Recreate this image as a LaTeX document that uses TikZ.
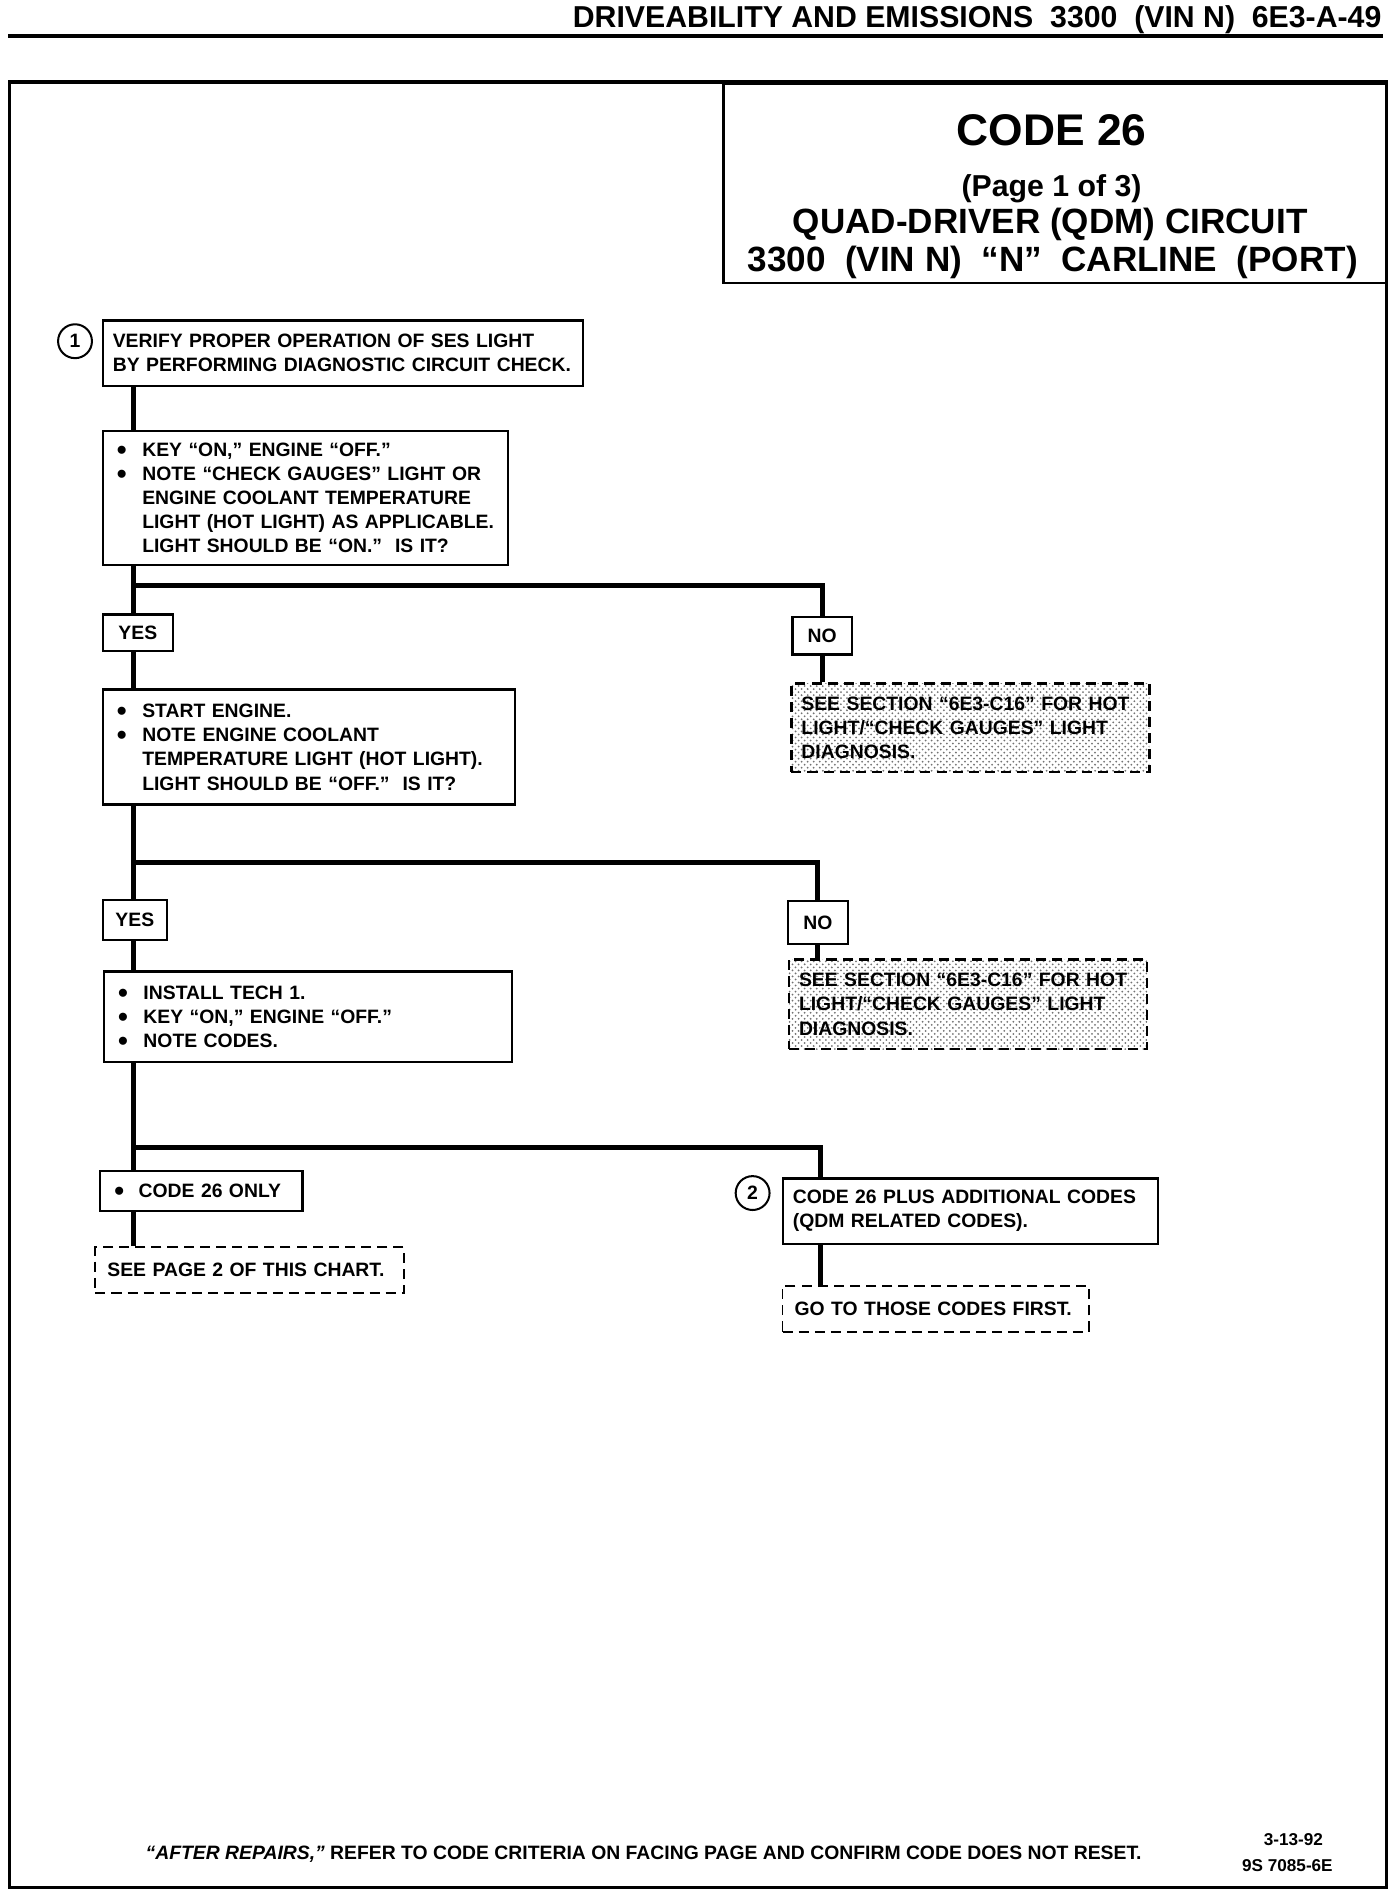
\documentclass[tikz,border=0pt]{standalone}
\usepackage{fontspec}
\setmainfont{Liberation Sans}
\usetikzlibrary{patterns}
\newcommand\bxf{\bfseries\fontsize{9.6}{12}\selectfont}
\newcommand\bigbul{\smash{\raisebox{-1.5pt}{\scalebox{1.45}{\textbullet}}}}
\newcommand\bul{\makebox[12.6pt][l]{\bigbul}}
\newcommand\ind{\hspace*{12.6pt}}
\begin{document}
\begin{tikzpicture}[x=0.6pt,y=-0.6pt,
  box/.style={draw, line width=1.1pt, anchor=north west, align=left, inner xsep=5pt, inner ysep=0pt, font=\bxf},
  bbox/.style={box, inner xsep=7pt},
  yn/.style={draw, line width=1.1pt, anchor=north west, inner sep=0pt, font=\bxf},
  hatchbox/.style={box, dash pattern=on 5pt off 3pt, line width=1.2pt, pattern=crosshatch dots, pattern color=black!55},
  dbox/.style={box, dash pattern=on 5pt off 3pt, line width=0.9pt, inner xsep=6pt},
  trunk/.style={line width=2.4pt},
  numc/.style={circle, draw, line width=1pt, minimum size=16.8pt, inner sep=0pt, font=\bxf},
  frame/.style={line width=1.8pt}]
\useasboundingbox (0,0) rectangle (1150,1562);
% header
\node[anchor=base east, inner sep=0pt, font=\bfseries\fontsize{15}{18}\selectfont] (hdr) at (1142,23) {DRIVEABILITY AND EMISSIONS\ \ 3300\ \ (VIN N)\ \ 6E3-A-49};
\draw[frame] (7,30) -- (1143,30);
% frame
\draw[frame] (8,68) rectangle (1146,1560);
% title
\node[draw, line width=1.1pt, anchor=north west, minimum width=328.6pt, minimum height=99pt, inner sep=0pt] (title) at (597,68) {};
\node[inner sep=0pt, font=\bfseries\fontsize{22}{26}\selectfont, anchor=base] (t1) at (869,120) {CODE 26};
\node[inner sep=0pt, font=\bfseries\fontsize{15}{18}\selectfont, anchor=base] (t2) at (869,162) {(Page 1 of 3)};
\node[inner sep=0pt, font=\bfseries\fontsize{17.4}{20}\selectfont, anchor=base] (t3) at (868,193) {QUAD-DRIVER (QDM) CIRCUIT};
\node[inner sep=0pt, font=\bfseries\fontsize{17.4}{20}\selectfont, anchor=base] (t4) at (870,224) {3300\ \ (VIN N)\ \ “N”\ \ CARLINE\ \ (PORT)};
% steps
\node[numc] (c1) at (62,282) {1};
\node[box, text width=228.2pt, minimum height=32.4pt] (box1) at (84,264)
  {VERIFY PROPER OPERATION OF SES LIGHT\\BY PERFORMING DIAGNOSTIC CIRCUIT CHECK.};
\node[bbox, text width=187pt, minimum height=66.6pt] (box2) at (84,355)
  {\bul KEY “ON,” ENGINE “OFF.”\\
   \bul NOTE “CHECK GAUGES” LIGHT OR\\
   \ind ENGINE COOLANT TEMPERATURE\\
   \ind LIGHT (HOT LIGHT) AS APPLICABLE.\\
   \ind LIGHT SHOULD BE “ON.”\ \ IS IT?};
\node[yn, minimum width=34.8pt, minimum height=18pt] (yes1) at (84,507) {YES};
\node[yn, minimum width=29.4pt, minimum height=18.6pt] (no1) at (654,509) {NO};
\node[hatchbox, text width=167.6pt, minimum height=43.8pt] (hatch1) at (653,564)
  {SEE SECTION “6E3-C16” FOR HOT\\LIGHT/“CHECK GAUGES” LIGHT\\DIAGNOSIS.};
\node[bbox, text width=190.6pt, minimum height=57pt] (box3) at (84,569)
  {\bul START ENGINE.\\
   \bul NOTE ENGINE COOLANT\\
   \ind TEMPERATURE LIGHT (HOT LIGHT).\\
   \ind LIGHT SHOULD BE “OFF.”\ \ IS IT?};
\node[yn, minimum width=31.8pt, minimum height=19.8pt] (yes2) at (84,743) {YES};
\node[yn, minimum width=30pt, minimum height=21pt] (no2) at (650,744) {NO};
\node[hatchbox, text width=167.6pt, minimum height=44.4pt] (hatch2) at (651,792)
  {SEE SECTION “6E3-C16” FOR HOT\\LIGHT/“CHECK GAUGES” LIGHT\\DIAGNOSIS.};
\node[bbox, text width=188.2pt, minimum height=45pt] (box4) at (85,802)
  {\bul INSTALL TECH 1.\\
   \bul KEY “ON,” ENGINE “OFF.”\\
   \bul NOTE CODES.};
\node[bbox, text width=86.2pt, minimum height=19.8pt] (c26) at (82,967)
  {\makebox[12pt][l]{\bigbul}CODE 26 ONLY};
\node[dbox, text width=141pt, minimum height=22.8pt] (dash1) at (78,1030)
  {SEE PAGE 2 OF THIS CHART.};
\node[numc] (c2) at (622,986) {2};
\node[box, text width=176pt, minimum height=32.4pt] (box6) at (646,973)
  {CODE 26 PLUS ADDITIONAL CODES\\(QDM RELATED CODES).};
\node[dbox, text width=139.8pt, minimum height=22.8pt] (dash2) at (646,1062)
  {GO TO THOSE CODES FIRST.};
% connectors
\coordinate (tx) at (110,0);
\coordinate (nx) at (678,0);
\coordinate (b1) at (110,484);
\coordinate (b2) at (110,713);
\coordinate (b3) at (110,948);
\draw[trunk] (box1.south -| tx) -- (box2.north -| tx);
\draw[trunk] (box2.south -| tx) -- (yes1.north -| tx);
\draw[trunk] (b1) -| (no1.north);
\draw[trunk] (no1.south) -- (hatch1.north -| no1.south);
\draw[trunk] (yes1.south -| tx) -- (box3.north -| tx);
\draw[trunk] (box3.south -| tx) -- (yes2.north -| tx);
\draw[trunk] (b2) -| (no2.north);
\draw[trunk] (no2.south) -- (hatch2.north -| no2.south);
\draw[trunk] (yes2.south -| tx) -- (box4.north -| tx);
\draw[trunk] (box4.south -| tx) -- (c26.north -| tx);
\draw[trunk] (b3) -| (box6.north -| nx);
\draw[trunk] (c26.south -| tx) -- (dash1.north -| tx);
\draw[trunk] (box6.south -| nx) -- (dash2.north -| nx);
% footer
\node[anchor=base west, inner sep=0pt, font=\bxf] (foot) at (120,1537)
  {\textit{“AFTER REPAIRS,”} REFER TO CODE CRITERIA ON FACING PAGE AND CONFIRM CODE DOES NOT RESET.};
\node[anchor=base, inner sep=0pt, font=\bfseries\fontsize{8.5}{10}\selectfont] (date) at (1069,1525) {3-13-92};
\node[anchor=base, inner sep=0pt, font=\bfseries\fontsize{8.5}{10}\selectfont] (ref) at (1064,1547) {9S 7085-6E};
\end{tikzpicture}
\end{document}
